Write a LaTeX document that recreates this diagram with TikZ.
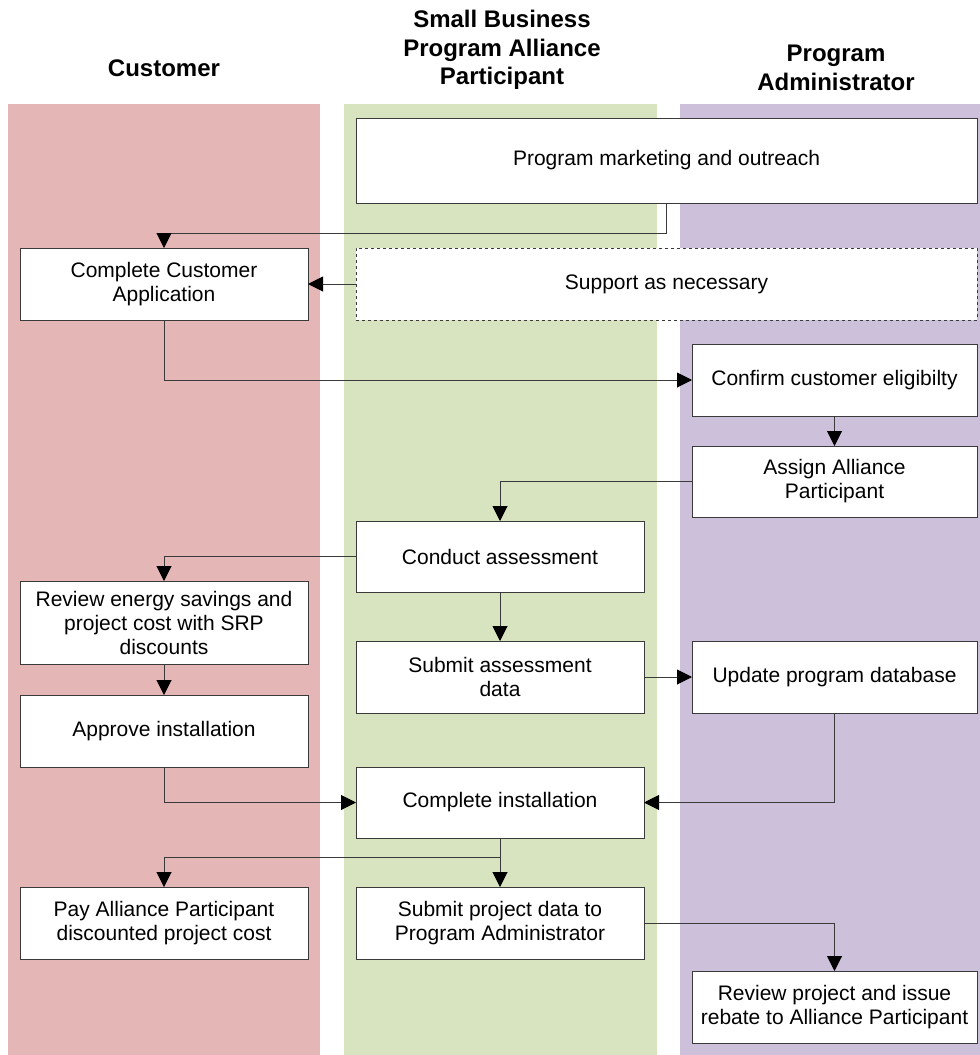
\documentclass[tikz,border=0pt]{standalone}
\usepackage{fontspec}
\setmainfont{Liberation Sans}
\usetikzlibrary{arrows.meta}
\definecolor{lanepink}{HTML}{E4B6B6}
\definecolor{lanegreen}{HTML}{D8E4BF}
\definecolor{lanepurple}{HTML}{CCC0DA}
\definecolor{boxline}{HTML}{3A3A3A}
\begin{document}
\begin{tikzpicture}[x=1pt,y=-1pt,
  stepbox/.style={draw=boxline, line width=1pt, fill=white, inner sep=0pt, outer sep=0pt,
    align=center, font=\fontsize{21}{24}\selectfont},
  lbox/.style={stepbox, minimum width=288pt, minimum height=72pt},
  hdr/.style={align=center, font=\fontsize{24}{28.5}\selectfont\bfseries},
  conn/.style={draw=boxline, line width=1pt, -{Triangle[length=15pt,width=15pt,color=black]}},
]
\useasboundingbox (0,0) rectangle (980,1055);
% lanes
\fill[lanepink] (8,104) rectangle (320,1055);
\fill[lanegreen] (344,104) rectangle (657,1055);
\fill[lanepurple] (680,104) rectangle (980,1055);
% headers
\node[hdr] (h1) at (164,68) {Customer};
\node[hdr] (h2) at (502,50) {Small Business\\Program Alliance\\Participant};
\node[hdr] (h3) at (836,68) {Program\\Administrator};
% boxes
\node[stepbox, minimum width=621pt, minimum height=85pt] (mkt) at (666.5,160.5) {Program marketing and outreach};
\node[lbox] (cca) at (164,284) {Complete Customer\\Application};
\node[stepbox, dashed, minimum width=621pt, minimum height=72pt] (sup) at (666.5,284) {Support as necessary};
\node[stepbox, minimum width=285pt, minimum height=72pt] (conf) at (834.5,380) {Confirm customer eligibilty};
\node[stepbox, minimum width=285pt, minimum height=71pt] (asg) at (834.5,481.5) {Assign Alliance\\Participant};
\node[lbox, minimum height=71pt] (cond) at (500,556.5) {Conduct assessment};
\node[lbox, minimum height=83pt] (rev) at (164,622.5) {Review energy savings and\\project cost with SRP\\discounts};
\node[lbox] (sad) at (500,677) {Submit assessment\\data};
\node[stepbox, minimum width=285pt, minimum height=72pt] (upd) at (834.5,677) {Update program database};
\node[lbox] (app) at (164,731) {Approve installation};
\node[lbox, minimum height=71pt] (ci) at (500,802.5) {Complete installation};
\node[lbox] (pay) at (164,923) {Pay Alliance Participant\\discounted project cost};
\node[lbox] (spd) at (500,923) {Submit project data to\\Program Administrator};
\node[stepbox, minimum width=285pt, minimum height=72pt] (rpi) at (834.5,1007) {Review project and issue\\rebate to Alliance Participant};
% waypoints
\coordinate (m1) at (666,203);
\coordinate (br) at (500,857);
% connectors
\draw[conn] (m1) |- (164,233) -- (cca.north);
\draw[conn] (sup.west) -- (cca.east);
\draw[conn] (cca.south) |- (conf.west);
\draw[conn] (conf.south) -- (asg.north);
\draw[conn] (asg.west) -| (cond.north);
\draw[conn] (cond.west) -| (rev.north);
\draw[conn] (rev.south) -- (app.north);
\draw[conn] (cond.south) -- (sad.north);
\draw[conn] (sad.east) -- (upd.west);
\draw[conn] (app.south) |- (ci.west);
\draw[conn] (upd.south) |- (ci.east);
\draw[conn] (ci.south) -- (spd.north);
\draw[conn] (br) -| (pay.north);
\draw[conn] (spd.east) -| (rpi.north);
\end{tikzpicture}
\end{document}
